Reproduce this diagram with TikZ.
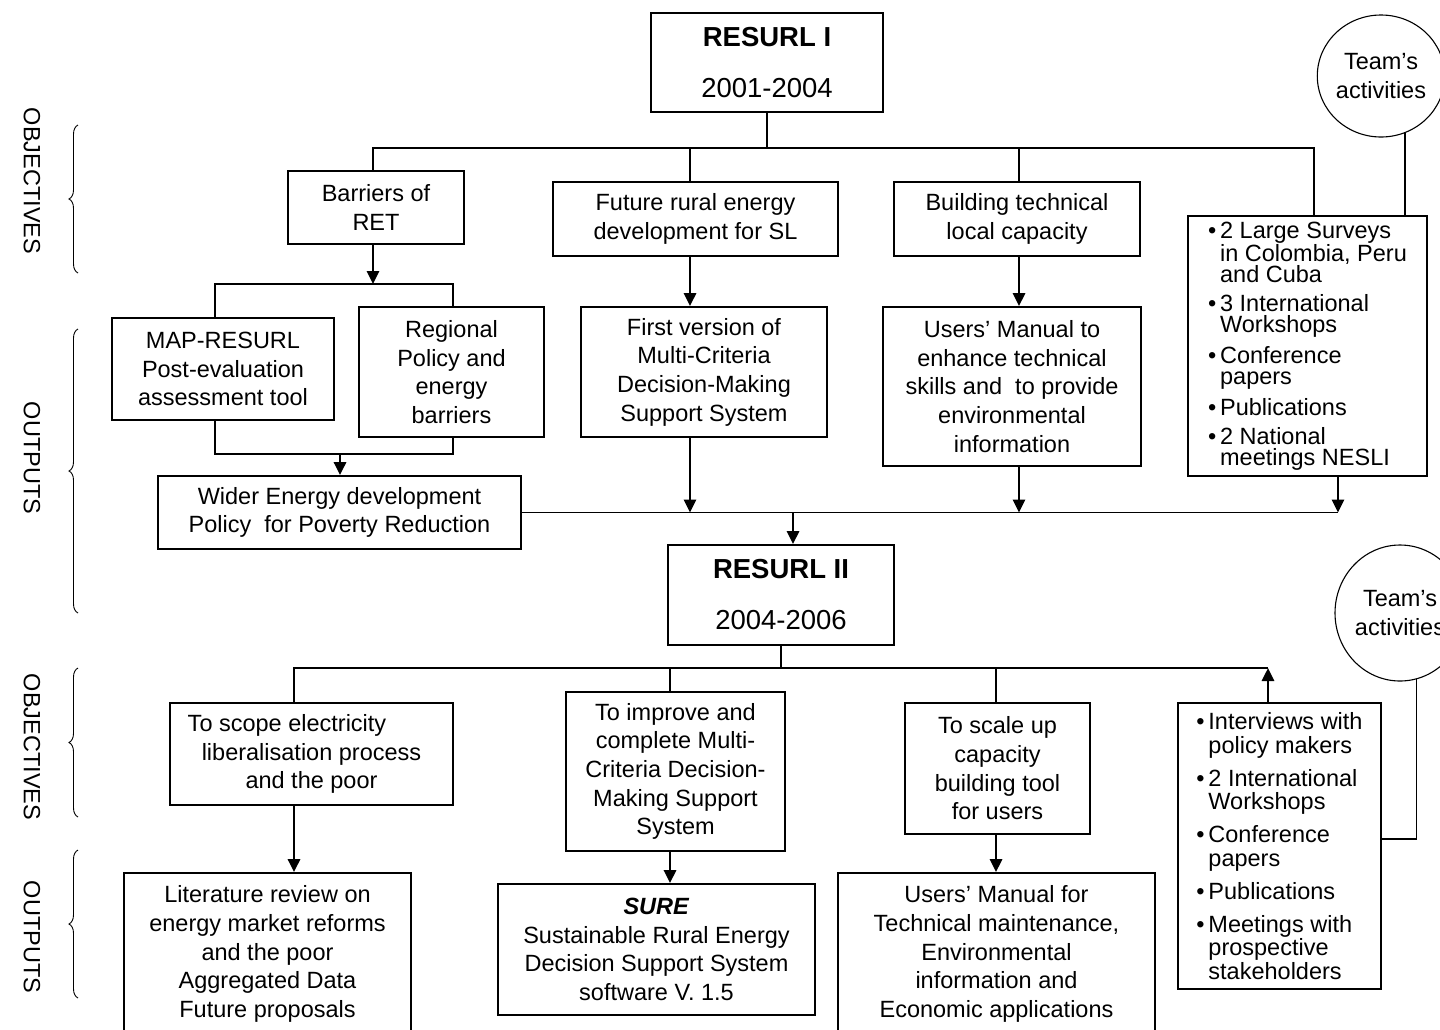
\documentclass[tikz,border=0pt]{standalone}
\usepackage{fontspec}
\setmainfont{Liberation Sans}
\usetikzlibrary{arrows.meta,shapes.geometric,decorations.pathreplacing,calc}
\newcommand\myfs{\fontsize{23.5}{28.7}\selectfont}
\newcommand\mybul{\makebox[12pt][l]{•}}
\newcommand\myind{\hspace*{12pt}}
\begin{document}
\begin{tikzpicture}[x=1pt,y=-1pt,
  box/.style={draw, line width=1.7pt, inner sep=0pt, align=center, font=\myfs},
  conn/.style={line width=1.7pt},
  arr/.style={line width=2.8pt, -{Triangle[length=13pt,width=12pt]}},
  brc/.style={line width=0.9pt, decorate, decoration={brace, amplitude=9pt}},
  lab/.style={rotate=-90, font=\myfs},
  team/.style={draw, ellipse, line width=1.1pt, inner sep=0pt, align=center, font=\myfs}]
\useasboundingbox (0,0) rectangle (1440,1029);
\fill[white] (0,0) rectangle (1440,1029);
\clip (0,0) rectangle (1440,1029);

% ---- side labels and braces
\node[lab] (lobj1) at (32,181) {OBJECTIVES};
\node[lab] (lout1) at (32,458) {OUTPUTS};
\node[lab] (lobj2) at (32,747) {OBJECTIVES};
\node[lab] (lout2) at (32,937) {OUTPUTS};
\draw[brc] (78,273) -- (78,125);
\draw[brc] (78,613) -- (78,329);
\draw[brc] (78,817) -- (78,668);
\draw[brc] (78,998) -- (78,850);

% ---- RESURL I
\node[box, minimum width=232, minimum height=99, font=\fontsize{27.5}{51}\selectfont] (rI) at (767,62.5) {\textbf{RESURL I}\\2001-2004};
\node[team, minimum width=114, minimum height=122] (team1) at (1381,76) {Team’s\\activities};

\node[box, minimum width=176, minimum height=73] (bar) at (376,207.5) {Barriers of\\RET};
\node[box, minimum width=285, minimum height=74] (fut) at (695.5,219) {Future rural energy\\development for SL};
\node[box, minimum width=246, minimum height=74] (bld) at (1017,219) {Building technical\\local capacity};
\node[box, minimum width=239, minimum height=260, align=left, font=\fontsize{23.5}{21.3}\selectfont] (list1) at (1307.5,346)
 {\mybul 2 Large Surveys\\ \myind in Colombia, Peru\\ \myind and Cuba\\[7.7pt]
  \mybul 3 International\\ \myind Workshops\\[7.7pt]
  \mybul Conference\\ \myind papers\\[7.7pt]
  \mybul Publications\\[7.7pt]
  \mybul 2 National\\ \myind meetings NESLI};

\node[box, minimum width=222, minimum height=102] (map) at (223,369) {MAP-RESURL\\Post-evaluation\\assessment tool};
\node[box, minimum width=185, minimum height=130] (reg) at (451.5,372) {Regional\\Policy and\\energy\\barriers};
\node[box, minimum width=246, minimum height=130] (fv) at (704,372) {First version of\\Multi-Criteria\\Decision-Making\\Support System};
\node[box, minimum width=258, minimum height=159] (um1) at (1012,386.5) {Users’ Manual to\\enhance technical\\skills and\ \ to provide\\environmental\\information};
\node[box, minimum width=363, minimum height=73] (wid) at (339.5,512.5) {Wider Energy development\\Policy\ \ for Poverty Reduction};

% ---- RESURL II
\node[box, minimum width=226, minimum height=100, font=\fontsize{27.5}{51}\selectfont] (rII) at (781,595) {\textbf{RESURL II}\\2004-2006};
\node[team, minimum width=130, minimum height=136] (team2) at (1400,613) {Team’s\\activities};

\node[box, minimum width=283, minimum height=102] (scope) at (311.5,754) {\hbox{To scope electricity\kern49pt}\\liberalisation process\\and the poor};
\node[box, minimum width=219, minimum height=159] (impr) at (675.5,771.5) {To improve and\\complete Multi-\\Criteria Decision-\\Making Support\\System};
\node[box, minimum width=185, minimum height=131] (scale) at (997.5,768.5) {To scale up\\capacity\\building tool\\for users};
\node[box, minimum width=203, minimum height=286, align=left, font=\fontsize{23.5}{23.5}\selectfont] (list2) at (1279.5,846)
 {\mybul Interviews with\\ \myind policy makers\\[9.5pt]
  \mybul 2 International\\ \myind Workshops\\[9.5pt]
  \mybul Conference\\ \myind papers\\[9.5pt]
  \mybul Publications\\[9.5pt]
  \mybul Meetings with\\ \myind prospective\\ \myind stakeholders};

\node[box, minimum width=287, minimum height=162] (lit) at (267.5,954) {Literature review on\\energy market reforms\\and the poor\\Aggregated Data\\Future proposals};
\node[box, minimum width=317, minimum height=131] (sure) at (656.5,949.5) {\textbf{\textit{SURE}}\\Sustainable Rural Energy\\Decision Support System\\software V. 1.5};
\node[box, minimum width=317, minimum height=162] (um2) at (996.5,954) {Users’ Manual for\\Technical maintenance,\\Environmental\\information and\\Economic applications};

% ---- bus coordinates
\coordinate (b1) at (0,148);
\coordinate (br1) at (373,284);
\coordinate (br2) at (340,454);
\coordinate (b3) at (0,668);

% ---- top connectors
\draw[conn] (rI.south) -- (rI.south |- b1);
\draw[conn] ([xshift=-3pt]bar.north) |- ([xshift=6.5pt]list1.north |- b1) -- ([xshift=6.5pt]list1.north);
\draw[conn] ([xshift=-5.5pt]fut.north) -- ([xshift=-5.5pt]fut.north |- b1);
\draw[conn] ([xshift=2pt]bld.north) -- ([xshift=2pt]bld.north |- b1);
\draw[conn] (team1.-67.6) -- (team1.-67.6 |- list1.north);

\draw[arr] ([xshift=-3pt]bar.south) -- (br1);
\draw[conn] ([xshift=-8pt]map.north) |- (br1) -| ([xshift=1.5pt]reg.north);
\draw[conn] ([xshift=-8pt]map.south) |- (br2) -| ([xshift=1.5pt]reg.south);
\draw[arr] (br2) -- (br2 |- wid.north);

\draw[arr] ([xshift=-5.5pt]fut.south) -- ([xshift=-5.5pt]fut.south |- fv.north);
\draw[arr] ([xshift=2pt]bld.south) -- ([xshift=2pt]bld.south |- um1.north);

\draw[conn] (wid.east) -- ([xshift=30.5pt]list1.south |- wid.east);
\draw[arr] ([xshift=-14pt]fv.south) -- ([xshift=-14pt]fv.south |- wid.east);
\draw[arr] ([xshift=7pt]um1.south) -- ([xshift=7pt]um1.south |- wid.east);
\draw[arr] ([xshift=30.5pt]list1.south) -- ([xshift=30.5pt]list1.south |- wid.east);
\draw[arr] ([xshift=12pt]rII.north |- wid.east) -- ([xshift=12pt]rII.north);

% ---- bottom connectors
\draw[conn] (rII.south) -- (rII.south |- b3);
\draw[conn] ([xshift=-17.5pt]scope.north) |- ([xshift=-11.5pt]list2.north |- b3);
\draw[arr] ([xshift=-11.5pt]list2.north) -- ([xshift=-11.5pt]list2.north |- b3);
\draw[conn] ([xshift=-5.5pt]impr.north) -- ([xshift=-5.5pt]impr.north |- b3);
\draw[conn] ([xshift=-1.5pt]scale.north) -- ([xshift=-1.5pt]scale.north |- b3);
\draw[conn] (team2.-76.4) |- ([yshift=7pt]list2.east);

\draw[arr] ([xshift=-17.5pt]scope.south) -- ([xshift=-17.5pt]scope.south |- lit.north);
\draw[arr] ([xshift=-5.5pt]impr.south) -- ([xshift=-5.5pt]impr.south |- sure.north);
\draw[arr] ([xshift=-1.5pt]scale.south) -- ([xshift=-1.5pt]scale.south |- um2.north);
\end{tikzpicture}
\end{document}
